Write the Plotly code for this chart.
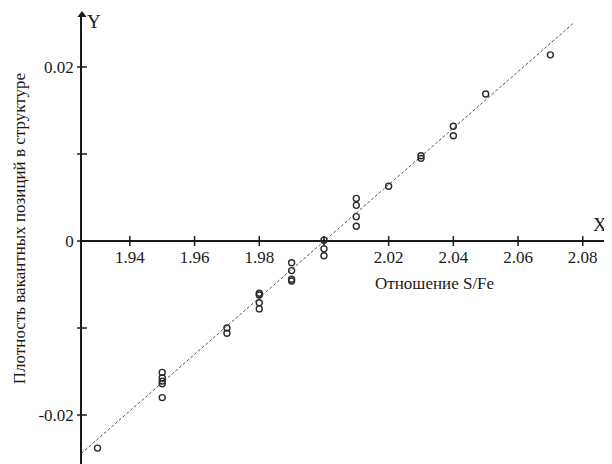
import plotly.graph_objects as go

# Data
ratio = [1.93,
         1.95, 1.95, 1.95, 1.95, 1.95,
         1.97, 1.97,
         1.98, 1.98, 1.98, 1.98,
         1.99, 1.99, 1.99, 1.99,
         2.00, 2.00, 2.00,
         2.01, 2.01, 2.01, 2.01,
         2.02,
         2.03, 2.03,
         2.04, 2.04,
         2.05,
         2.07]
density = [-0.0238,
           -0.0151, -0.0157, -0.0161, -0.0164, -0.0180,
           -0.0100, -0.0106,
           -0.0060, -0.0062, -0.0071, -0.0078,
           -0.0025, -0.0034, -0.0044, -0.0046,
           0.0001, -0.0009, -0.0017,
           0.0049, 0.0041, 0.0028, 0.0017,
           0.0063,
           0.0098, 0.0095,
           0.0132, 0.0121,
           0.0169,
           0.0214]
fit_x = [1.925, 2.077]
fit_y = [-0.0244, 0.0250]

x_ticks = [1.94, 1.96, 1.98, 2.00, 2.02, 2.04, 2.06, 2.08]
x_ticktext = ["1.94", "1.96", "1.98", "", "2.02", "2.04", "2.06", "2.08"]
y_ticks = [-0.02, -0.01, 0, 0.01, 0.02]
y_ticktext = ["-0.02", "", "0", "", "0.02"]

x_range = [1.9252, 2.0875]
y_range = [-0.02563, 0.02598]

FONT = "'Liberation Serif', 'Times New Roman', Times, serif"
INK = "#1a1a1a"

fig = go.Figure()

# regression line
fig.add_trace(go.Scatter(x=fit_x, y=fit_y, mode="lines",
                         line=dict(color="#555555", width=1, dash="3px,2px"),
                         hoverinfo="skip", showlegend=False))
# data points
fig.add_trace(go.Scatter(x=ratio, y=density, mode="markers",
                         marker=dict(symbol="circle-open", size=6,
                                     color="#2a2a2a", line=dict(width=1.4)),
                         showlegend=False))
# tick crosses on x axis (at y=0)
fig.add_trace(go.Scatter(x=x_ticks, y=[0] * len(x_ticks), mode="markers",
                         marker=dict(symbol="line-ns", size=7,
                                     line=dict(width=1.5, color=INK)),
                         hoverinfo="skip", showlegend=False, cliponaxis=False))
# tick crosses on y axis (at left edge)
fig.add_trace(go.Scatter(x=[x_range[0]] * len(y_ticks), y=y_ticks, mode="markers",
                         marker=dict(symbol="line-ew", size=7,
                                     line=dict(width=1.5, color=INK)),
                         hoverinfo="skip", showlegend=False, cliponaxis=False))
# arrow heads
fig.add_trace(go.Scatter(x=[x_range[1]], y=[0], mode="markers",
                         marker=dict(symbol="triangle-right", size=8, color=INK),
                         hoverinfo="skip", showlegend=False, cliponaxis=False))
fig.add_trace(go.Scatter(x=[x_range[0]], y=[y_range[1]], mode="markers",
                         marker=dict(symbol="triangle-up", size=8, color=INK),
                         hoverinfo="skip", showlegend=False, cliponaxis=False))

x_pos = (0 - y_range[0]) / (y_range[1] - y_range[0])

fig.update_layout(
    width=604, height=456,
    margin=dict(l=74, r=5, t=7, b=0),
    paper_bgcolor="white", plot_bgcolor="white",
    font=dict(family=FONT, size=17, color=INK),
    xaxis=dict(range=x_range, showgrid=False, zeroline=False,
               showline=False, anchor="free", position=x_pos,
               tickvals=x_ticks, ticktext=x_ticktext, ticks="outside",
               ticklen=1, tickcolor="rgba(0,0,0,0)",
               tickfont=dict(family=FONT, size=17, color=INK)),
    yaxis=dict(range=y_range, showgrid=False, zeroline=True,
               zerolinecolor=INK, zerolinewidth=1.6,
               showline=True, linecolor=INK, linewidth=1.6,
               tickvals=y_ticks, ticktext=y_ticktext, ticks="outside",
               ticklen=3, tickcolor="rgba(0,0,0,0)",
               tickfont=dict(family=FONT, size=17, color=INK)),
    annotations=[
        dict(text="Отношение S/Fe", x=2.0343, y=0, yshift=-42, xref="x", yref="y",
             showarrow=False, font=dict(family=FONT, size=17, color=INK)),
        dict(text="X", x=x_range[1], y=0, xanchor="right", yanchor="bottom",
             yshift=4, xshift=2, xref="x", yref="y", showarrow=False,
             font=dict(family=FONT, size=19, color=INK)),
        dict(text="Y", x=x_range[0], y=y_range[1], xanchor="left", yanchor="top",
             xshift=3, yshift=6, xref="x", yref="y", showarrow=False,
             font=dict(family=FONT, size=19, color=INK)),
        dict(text="Плотность вакантных позиций в структуре", textangle=-90,
             x=-0.12, y=0.523, xanchor="center", yanchor="middle",
             xref="paper", yref="paper", showarrow=False,
             font=dict(family=FONT, size=17, color=INK)),
    ],
)

fig.write_html("out.html")
